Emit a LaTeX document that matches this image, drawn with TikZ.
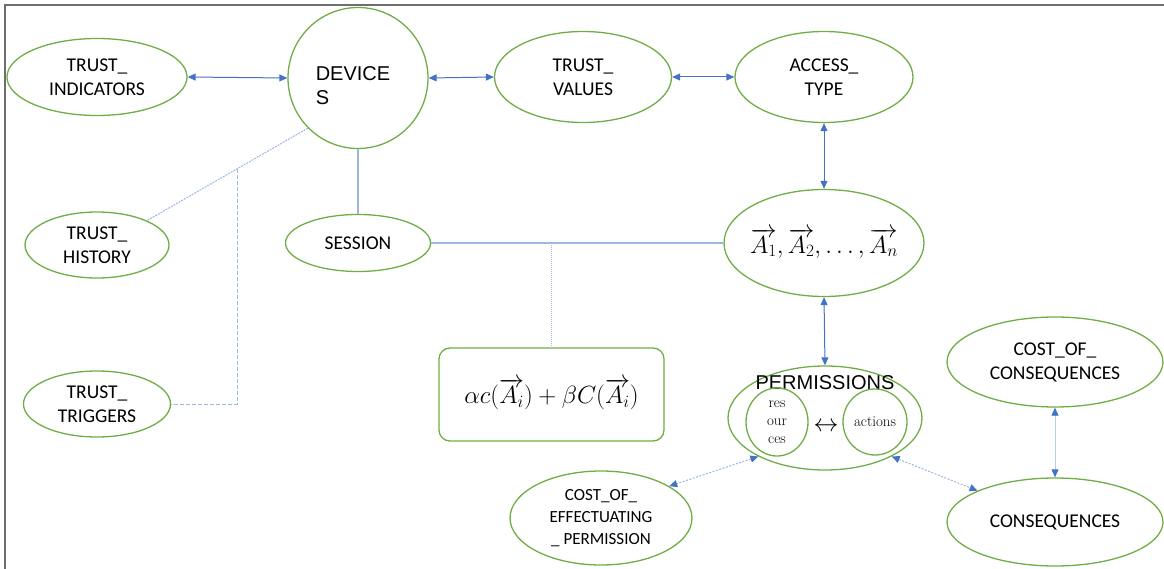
\documentclass[tikz,border=0pt]{standalone}
\usepackage{fontspec}
\setmainfont{Carlito}
\newfontfamily\arialf{Liberation Sans}
\newfontfamily\lmserif{Latin Modern Roman}
\usetikzlibrary{shapes.geometric,arrows.meta,calc}
\definecolor{grn}{HTML}{70AD47}
\definecolor{blu}{HTML}{4472C4}
\definecolor{lblu}{HTML}{9DB6E2}
\definecolor{frm}{HTML}{6E6E6E}
\tikzset{
  ell/.style={ellipse, draw=grn, line width=1.3pt, inner sep=0pt, align=center,
    font=\fontsize{19.5}{24}\selectfont},
  arr/.style={{Triangle[length=8pt,width=7pt]}-{Triangle[length=8pt,width=7pt]}, draw=blu, line width=1pt},
  darr/.style={{Triangle[length=8pt,width=7pt,color=blu]}-{Triangle[length=8pt,width=7pt,color=blu]}, draw=lblu, line width=1pt, dash pattern=on 2pt off 1.5pt},
  larr/.style={{Triangle[length=8pt,width=7pt,color=blu]}-{Triangle[length=8pt,width=7pt,color=blu]}, draw=lblu!70, line width=0.8pt},
  lline/.style={draw=lblu, line width=1.2pt},
  dotl/.style={draw=lblu, line width=1pt, dash pattern=on 2pt off 1pt},
  dashl/.style={draw=lblu, line width=1pt, dash pattern=on 4pt off 2pt},
  dotv/.style={draw=lblu, line width=0.8pt, dash pattern=on 1pt off 1pt},
  frame/.style={draw=frm, line width=1.6pt}
}
\begin{document}
\begin{tikzpicture}[x=1pt,y=-1pt]
\useasboundingbox (0,0) rectangle (1164,569);
\draw[frame] (5,569) -- (5,5) -- (1164,5);

\node[ell, minimum width=180pt, minimum height=77pt] (ti) at (97,77) {TRUST\_\\INDICATORS};
\node[ell, minimum width=140pt, minimum height=141pt,
  label={[font=\arialf\fontsize{20}{24}\selectfont, align=left, xshift=-5pt, yshift=-8pt]center:DEVICE\\S}] (dev) at (358,78) {};
\node[ell, minimum width=177pt, minimum height=91pt] (tv) at (583,77) {TRUST\_\\VALUES};
\node[ell, minimum width=178pt, minimum height=91pt] (acc) at (824,77) {ACCESS\_\\TYPE};
\node[ell, minimum width=200pt, minimum height=107pt, inner xsep=-15pt, font=\fontsize{24}{28}\selectfont] (avec) at (824,243)
  {$\overrightarrow{A_1},\overrightarrow{A_2},\ldots,\overrightarrow{A_n}$};
\node[ell, minimum width=144pt, minimum height=66pt] (th) at (97,245) {TRUST\_\\HISTORY};
\node[ell, minimum width=147pt, minimum height=66pt] (tt) at (97,404) {TRUST\_\\TRIGGERS};
\node[ell, minimum width=145pt, minimum height=57pt] (ses) at (358,243) {SESSION};
\node[draw=grn, line width=1.3pt, rounded corners=11pt, minimum width=225pt, minimum height=93pt,
  font=\fontsize{26}{30}\selectfont] (fb) at (551.5,394.5)
  {$\alpha c\Bigl(\overrightarrow{A_i}\Bigr)+\beta C\Bigl(\overrightarrow{A_i}\Bigr)$};
\node[ell, minimum width=194pt, minimum height=104pt,
  label={[font=\arialf\fontsize{20}{24}\selectfont, yshift=35pt]center:PERMISSIONS}] (perm) at (825,418) {};
\node[ell, minimum width=62pt, minimum height=68pt, font=\lmserif\fontsize{15}{18}\selectfont] (res) at (777,422) {res\\our\\ces};
\node[ell, minimum width=64pt, minimum height=66pt, font=\lmserif\fontsize{15}{18}\selectfont] (act) at (875,422) {actions};
\node[font=\fontsize{24}{26}\selectfont] (lr) at (826,427) {$\leftrightarrow$};
\node[ell, minimum width=182pt, minimum height=94pt, inner ysep=-10pt, font=\fontsize{17}{22}\selectfont] (ce) at (601,518) {COST\_OF\_\\EFFECTUATING\\\_ PERMISSION};
\node[ell, minimum width=216pt, minimum height=90pt] (cc) at (1055,362) {COST\_OF\_\\CONSEQUENCES};
\node[ell, minimum width=216pt, minimum height=88pt] (cons) at (1055,522) {CONSEQUENCES};

\draw[arr] (ti.east) -- (dev.west);
\draw[arr] (dev.east) -- (tv.west);
\draw[arr] (tv.east) -- (acc.west);
\draw[arr] (acc.south) -- (avec.north);
\draw[arr] (avec.south) -- (perm.north);
\draw[darr] (perm.210) -- (ce.25);
\draw[darr] (perm.330) -- (cons.158);
\draw[larr] (cc.south) -- (cons.north);

\draw[lline] (dev.south) -- (ses.north);
\draw[lline] (ses.east) -- (avec.west);
\draw[dotl] (dev.225) -- (th.26);
\coordinate (br) at ($(dev.225)!0.44!(th.26)$);
\draw[dashl] (br) |- (tt.east);
\coordinate (fj) at (fb.north |- ses.east);
\draw[dotv] (fj) -- (fb.north);
\end{tikzpicture}
\end{document}
